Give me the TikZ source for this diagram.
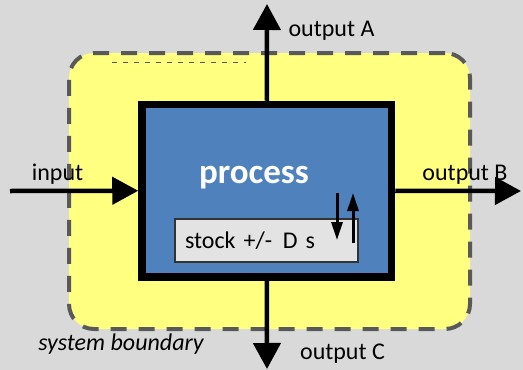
\documentclass[tikz,border=0pt]{standalone}
\usepackage{fontspec}
\setmainfont{Carlito}
\usetikzlibrary{arrows.meta}

\definecolor{bgGray}{HTML}{D9D9D9}
\definecolor{sysYellow}{HTML}{FFFF80}
\definecolor{procBlue}{HTML}{4F81BD}
\definecolor{stockGray}{HTML}{E3E3E3}
\definecolor{lineGray}{HTML}{595959}

\begin{document}
\begin{tikzpicture}[x=1pt, y=-1pt,
    boundary/.style={
        rectangle,
        rounded corners=25pt,
        draw=lineGray,
        fill=sysYellow,
        dash pattern=on 16pt off 12pt,
        line width=4pt,
        inner sep=0pt
    },
    procbox/.style={
        rectangle,
        draw=black,
        fill=procBlue,
        line width=7.5pt,
        inner sep=0pt
    },
    stockbox/.style={
        rectangle,
        draw=black!80,
        fill=stockGray,
        line width=1.2pt,
        inner xsep=10pt,
        inner ysep=0pt,
        align=left,
        font=\fontsize{24}{28}\selectfont
    },
    lbl/.style={
        font=\fontsize{24}{28}\selectfont,
        inner sep=0pt
    },
    flow/.style={
        line width=4.5pt,
        -{Triangle[length=26pt,width=27pt]}
    },
    stockflow/.style={
        line width=3pt,
        -{Triangle[length=18pt,width=11pt]}
    }
]

% Background
\useasboundingbox (0,0) rectangle (523,370);
\fill[bgGray] (0,0) rectangle (523,370);

% System boundary
\node[boundary, minimum width=401pt, minimum height=276pt] (sysbound) at (269.5,191) {};
\coordinate (dashL) at (112,62);
\coordinate (dashR) at (246,62);
\draw[lineGray, line width=1pt, dash pattern=on 5pt off 6pt] (dashL) -- (dashR);

% Process
\node[procbox, minimum width=249.5pt, minimum height=172.5pt] (proc) at (266.75,190.75) {};
\node[lbl, font=\fontsize{35}{40}\selectfont\bfseries, text=white] (proclbl) at (254,178) {process};

% Stock
\node[stockbox, minimum width=183pt, minimum height=43pt, text width=163pt] (stock) at (266.5,240.5) {stock +/-\hspace{0.45em}D s};
\coordinate (dnTop) at (337,193);
\coordinate (dnEnd) at (337,240);
\coordinate (upBot) at (353,243);
\coordinate (upEnd) at (353,193);
\draw[stockflow] (dnTop) -- (dnEnd);
\draw[stockflow] (upBot) -- (upEnd);

% Flows
\coordinate (inStart) at (10,191);
\coordinate (outA) at (267,4);
\coordinate (outB) at (521,191);
\coordinate (outC) at (267,369);
\draw[flow] (inStart) -- (proc.west);
\draw[flow] (proc.north) -- (outA);
\draw[flow] (proc.east) -- (outB);
\draw[flow] (proc.south) -- (outC);

% Labels
\node[lbl] (inlbl) at (57.5,174) {input};
\node[lbl] (albl) at (331.5,31) {output A};
\node[lbl] (blbl) at (465,175) {output B};
\node[lbl] (clbl) at (342.5,354) {output C};
\node[lbl, font=\fontsize{24}{28}\selectfont\itshape] (sblbl) at (121,344) {system boundary};

\end{tikzpicture}
\end{document}
